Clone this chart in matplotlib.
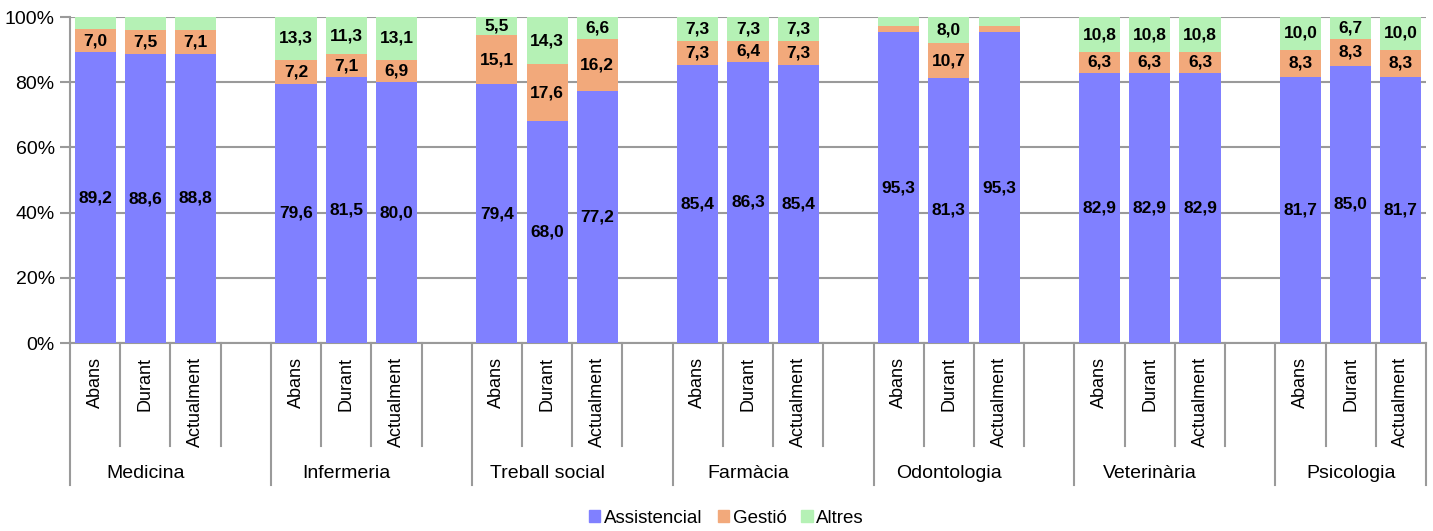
import matplotlib
matplotlib.use("Agg")
import matplotlib.pyplot as plt
from matplotlib import font_manager
from matplotlib.patches import Patch

groups = ["Medicina", "Infermeria", "Treball social", "Farmàcia",
          "Odontologia", "Veterinària", "Psicologia"]
moments = ["Abans", "Durant", "Actualment"]

assistencial = [[89.2, 88.6, 88.8], [79.6, 81.5, 80.0], [79.4, 68.0, 77.2],
                [85.4, 86.3, 85.4], [95.3, 81.3, 95.3], [82.9, 82.9, 82.9],
                [81.7, 85.0, 81.7]]
gestio = [[7.0, 7.5, 7.1], [7.2, 7.1, 6.9], [15.1, 17.6, 16.2],
          [7.3, 6.4, 7.3], [1.9, 10.7, 1.9], [6.3, 6.3, 6.3],
          [8.3, 8.3, 8.3]]
altres = [[3.8, 3.9, 4.1], [13.3, 11.3, 13.1], [5.5, 14.3, 6.6],
          [7.3, 7.3, 7.3], [2.8, 8.0, 2.8], [10.8, 10.8, 10.8],
          [10.0, 6.7, 10.0]]

series = [("Assistencial", assistencial, "#8080FF"),
          ("Gestió", gestio, "#F2A97B"),
          ("Altres", altres, "#B5F1B5")]

names = {f.name for f in font_manager.fontManager.ttflist}
narrow = "Liberation Sans Narrow" if "Liberation Sans Narrow" in names else "Liberation Sans"
plt.rcParams["font.family"] = [narrow, "DejaVu Sans"]

fig = plt.figure(figsize=(14.33, 5.31), dpi=100)
ax = fig.add_axes([70 / 1433, 1 - 343 / 531, 1356 / 1433, 326 / 531])

grid = "#9A9A9A"
n_slots = 4 * len(groups) - 1

for g in range(len(groups)):
    for m in range(3):
        x = 4 * g + m + 0.5
        bottom = 0
        for name, vals, col in series:
            v = vals[g][m]
            ax.bar(x, v, 0.82, bottom=bottom, color=col, edgecolor="none", zorder=3)
            if v >= 5:
                ax.text(x, bottom + v / 2, f"{v:.1f}".replace(".", ","),
                        ha="center", va="center", fontsize=12.5,
                        fontweight="bold", zorder=4)
            bottom += v

ax.set_xlim(0, n_slots)
ax.set_ylim(0, 100)
ax.set_yticks(range(0, 101, 20))
ax.set_yticklabels([f"{t}%" for t in range(0, 101, 20)], fontsize=14)
ax.yaxis.grid(True, color=grid, lw=1.5, zorder=0)
ax.tick_params(axis="y", length=7, width=1.5, color=grid, pad=4)
for s in ["top", "right"]:
    ax.spines[s].set_visible(False)
for s in ["left", "bottom"]:
    ax.spines[s].set_color(grid)
    ax.spines[s].set_linewidth(1.5)
ax.set_xticks([])

trans = ax.get_xaxis_transform()
for i in range(n_slots + 1):
    is_group = (i % 4 == 0) or i == n_slots
    y_end = -0.436 if is_group else -0.316
    ax.plot([i, i], [0, y_end], color=grid, lw=1.5, transform=trans, clip_on=False)

for g, name in enumerate(groups):
    for m, mom in enumerate(moments):
        ax.text(4 * g + m + 0.5, -0.043, mom, rotation=90, ha="center", va="top",
                fontsize=13, transform=trans)
    ax.text(4 * g + 1.5, -0.4, name, ha="center", va="center", fontsize=14,
            transform=trans)

handles = [Patch(color=c, label=n) for n, _, c in series]
fig.legend(handles=handles, loc="center", bbox_to_anchor=(0.507, 0.024), ncol=3,
           frameon=False, fontsize=13.5, handlelength=0.6, handleheight=0.6,
           handletextpad=0.2, columnspacing=0.8)

fig.savefig("out.png", dpi=100)
